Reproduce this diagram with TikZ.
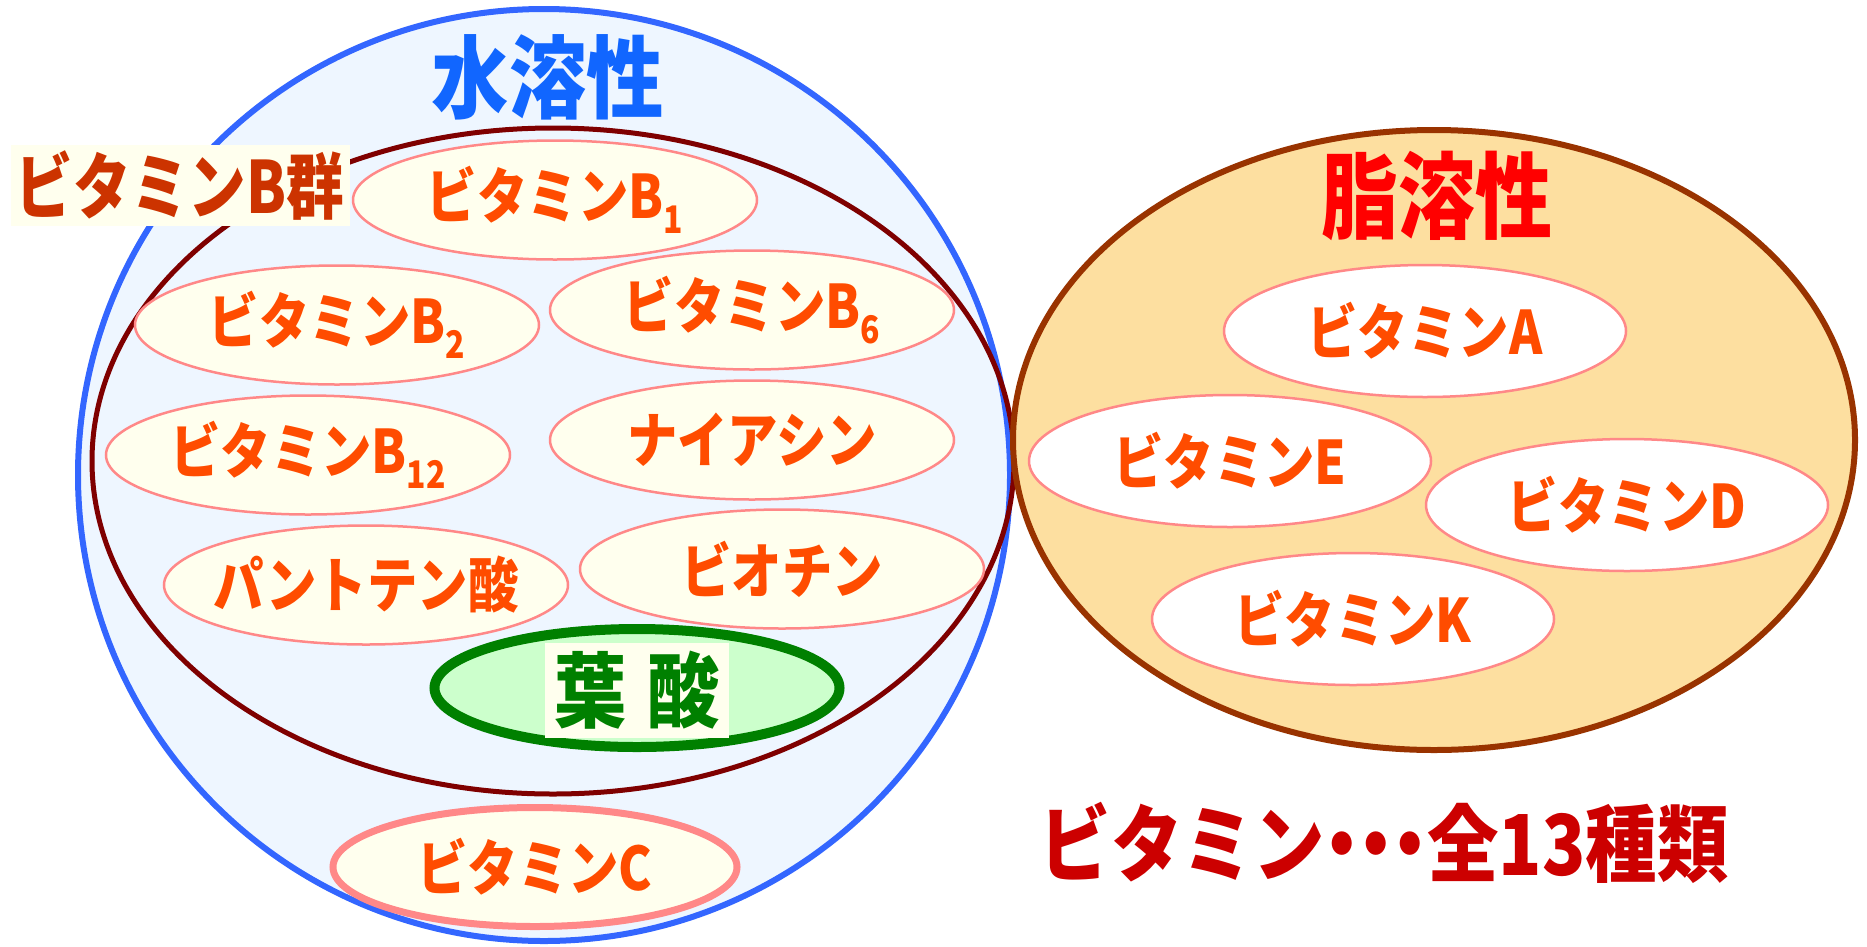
\documentclass[tikz,border=0pt]{standalone}
\usepackage{fontspec}
\usetikzlibrary{shapes.geometric}
\newfontfamily\jp{Noto Sans CJK JP}
\definecolor{blueline}{HTML}{3366FF}
\definecolor{bluefill}{HTML}{EEF6FF}
\definecolor{darkred}{HTML}{7F0000}
\definecolor{brownline}{HTML}{993300}
\definecolor{orangefill}{HTML}{FDDFA0}
\definecolor{pinkline}{HTML}{FF8888}
\definecolor{ivory}{HTML}{FFFFEE}
\definecolor{txtorange}{HTML}{FF4C00}
\definecolor{greenline}{HTML}{008000}
\definecolor{greenfill}{HTML}{CCFFCC}
\definecolor{titleblue}{HTML}{1166FF}
\definecolor{bgtext}{HTML}{CC3300}
\definecolor{totaltext}{HTML}{CC0000}
\newcommand{\hsq}[2]{\scalebox{#1}[1]{#2}}
\newcommand{\jsub}[1]{\raisebox{-15pt}{\fontsize{38}{38}\selectfont #1}}
\newcommand{\vt}[1]{\makebox[0pt]{\hsq{0.84}{#1}}}
\tikzset{
  vit/.style={ellipse, draw=pinkline, line width=2.5pt, fill=ivory, minimum width=404pt, minimum height=119pt, inner sep=0pt, text=txtorange, font=\jp\bfseries\fontsize{60}{60}\selectfont},
  fatvit/.style={vit, fill=white, minimum width=402pt, minimum height=132pt},
  title/.style={inner sep=0pt, font=\jp\bfseries\fontsize{90}{90}\selectfont}
}
\begin{document}
\begin{tikzpicture}[x=1pt,y=-1pt]
\useasboundingbox (0,0) rectangle (1867,946);
% big groups
\node[circle, draw=blueline, line width=6pt, fill=bluefill, minimum size=932pt, inner sep=0pt] (water) at (544,475) {};
\node[ellipse, draw=darkred, line width=5pt, minimum width=922pt, minimum height=666pt, inner sep=0pt] (bgroup) at (553,461) {};
\node[ellipse, draw=brownline, line width=6pt, fill=orangefill, minimum width=842pt, minimum height=620pt, inner sep=0pt] (fat) at (1434,440) {};
% titles
\node[title, text=titleblue] (watert) at (548,77) {\hsq{0.86}{水溶性}};
\node[title, text=red, font=\jp\bfseries\fontsize{94}{94}\selectfont] (fatt) at (1437,196) {\hsq{0.82}{脂溶性}};
\node[fill=ivory, minimum width=339pt, minimum height=81pt, inner sep=0pt, text=bgtext, font=\jp\bfseries\fontsize{72}{72}\selectfont] (bgt) at (180,185) {\hsq{0.8}{ビタミンB群}};
% water-soluble vitamins
\node[vit] (b1) at (555,200) {\vt{ビタミンB\jsub{1}}};
\node[vit] (b2) at (337,325) {\vt{ビタミンB\jsub{2}}};
\node[vit] (b6) at (752,310) {\vt{ビタミンB\jsub{6}}};
\node[vit] (b12) at (308,455) {\vt{ビタミンB\jsub{12}}};
\node[vit] (nia) at (752,440) {\vt{ナイアシン}};
\node[vit] (pan) at (366,585) {\vt{パントテン酸}};
\node[vit] (bio) at (782,569) {\vt{ビオチン}};
\node[ellipse, draw=greenline, line width=10pt, fill=greenfill, minimum width=405pt, minimum height=118pt, inner sep=0pt] (fol) at (637,688) {};
\node[fill=ivory, minimum width=184pt, minimum height=95pt, inner sep=0pt, text=greenline, font=\jp\bfseries\fontsize{82}{82}\selectfont] (folt) at (637,690) {\hsq{0.88}{葉\hspace{0.3em}酸}};
\node[vit, line width=7pt] (c) at (535,867) {\vt{ビタミンC}};
% fat-soluble vitamins
\node[fatvit] (a) at (1425,331) {\vt{ビタミンA}};
\node[fatvit] (e) at (1230,461) {\vt{ビタミンE}};
\node[fatvit] (d) at (1627,505) {\vt{ビタミンD}};
\node[fatvit] (k) at (1353,619) {\vt{ビタミンK}};
% total
\node[inner sep=0pt, text=totaltext, font=\jp\bfseries\fontsize{84}{84}\selectfont] (total) at (1384,843) {\hsq{0.85}{ビタミン\kern-22pt・\kern-44pt・\kern-44pt・\kern-22pt 全13種類}};
\end{tikzpicture}
\end{document}
